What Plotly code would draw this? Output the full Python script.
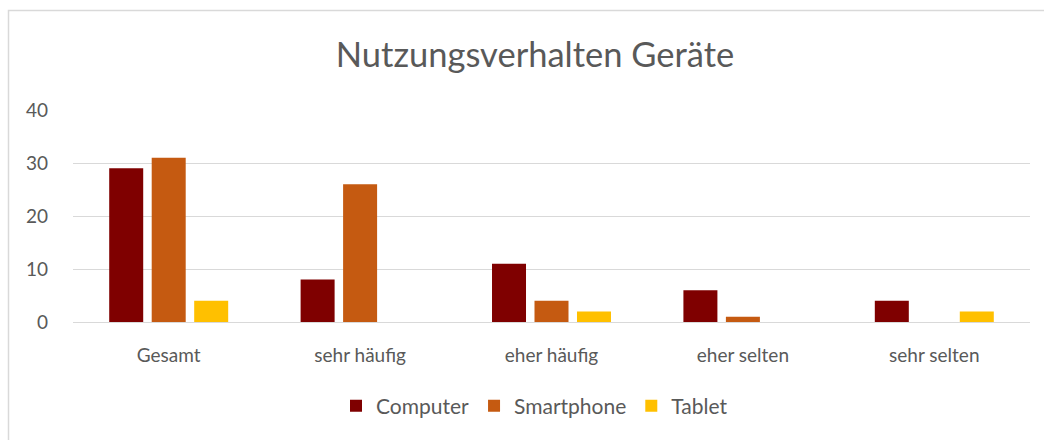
import plotly.graph_objects as go

categories = ["Gesamt", "sehr häufig", "eher häufig", "eher selten", "sehr selten"]
computer = [29, 8, 11, 6, 4]
smartphone = [31, 26, 4, 1, 0]
tablet = [4, 0, 2, 0, 2]
series_names = ["Computer", "Smartphone", "Tablet"]
colors = ["#7F0000", "#C55A11", "#FFC000"]
y_ticks = [0, 10, 20, 30, 40]

W, H = 1044, 440
ml, mr, mt, mb = 73, 14, 110, 118
pw = W - ml - mr
ph = H - mt - mb

fig = go.Figure()
for name, vals, col in zip(series_names, [computer, smartphone, tablet], colors):
    fig.add_trace(go.Bar(x=categories, y=vals, name=name, marker=dict(color=col, line=dict(width=0))))

font_family = "Lato, Open Sans, sans-serif"
grey = "#595959"
fig.update_layout(
    width=W, height=H,
    margin=dict(l=ml, r=mr, t=mt, b=mb, autoexpand=False),
    paper_bgcolor="white", plot_bgcolor="white",
    barmode="group", bargap=0.334, bargroupgap=0.2,
    title=dict(text="Nutzungsverhalten Geräte", x=535 / W, xanchor="center",
               y=(H - 55) / H, yanchor="middle",
               font=dict(family=font_family, size=34.5, color=grey)),
    font=dict(family=font_family, size=19, color=grey),
    xaxis=dict(showgrid=False, showline=False, ticks="", ticklabelstandoff=20,
               tickfont=dict(size=19, color=grey)),
    yaxis=dict(range=[0, 40], tickvals=y_ticks, showgrid=True, gridcolor="#D9D9D9", gridwidth=1,
               zeroline=True, zerolinecolor="#D9D9D9", zerolinewidth=1, showline=False,
               ticks="", ticklabelstandoff=24, tickfont=dict(size=19, color=grey)),
    legend=dict(orientation="h", x=0.5 - 17 / pw, xanchor="center", y=-(406 - (H - mb)) / ph,
                yanchor="middle", font=dict(size=21, color=grey), itemwidth=30,
                traceorder="normal"),
    showlegend=True,
)

# chart border (outer frame)
fig.add_shape(type="rect", xref="paper", yref="paper",
              x0=(8.5 - ml) / pw, x1=(W + 20 - ml) / pw,
              y0=-(H + 20 - (H - mb)) / ph, y1=((H - mb) - 10.5) / ph,
              line=dict(color="#D9D9D9", width=1.5), fillcolor="rgba(0,0,0,0)", layer="below")

fig.write_html("out.html", config={"displayModeBar": False},
               post_script="document.body.style.margin='0';document.body.style.overflow='hidden';")
